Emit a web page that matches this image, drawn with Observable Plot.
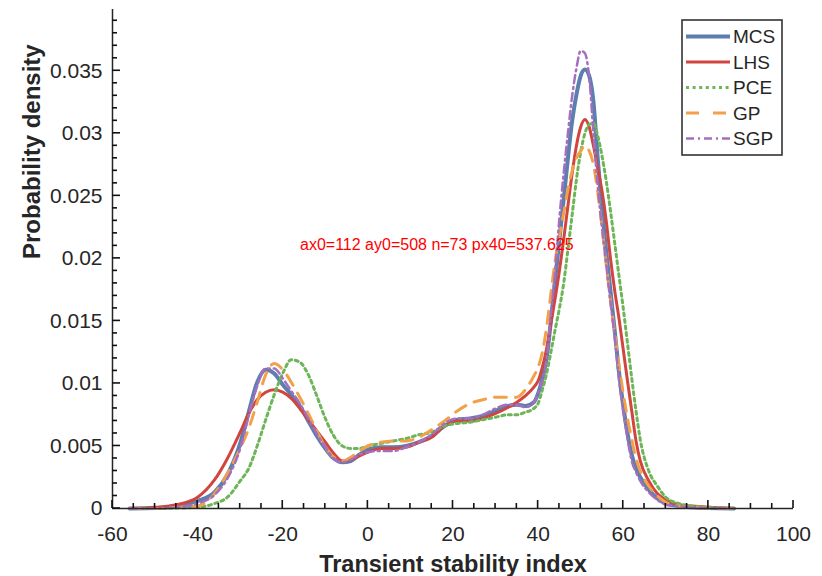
<!DOCTYPE html>
<html><head><meta charset="utf-8">
<script src="https://cdn.jsdelivr.net/npm/d3@7"></script>
<script src="https://cdn.jsdelivr.net/npm/@observablehq/plot@0.6"></script>
<style>
body{margin:0;background:#fff}
#chart{width:822px;height:576px}
</style>
</head><body><div id="chart"></div>
<script>
const xs = [-56,-50,-45,-40,-36,-33,-30,-28,-26,-24,
  -22,-20,-18,-16,-14,-12,-10,-8,-6,-4,
  -2,0,3,6,9,12,15,18,21,24,
  27,30,33,35,37,39,40,41,42,43,
  44,45,46,47,48,49,50,51,52,53,
  54,55,56,57,58,59,60,61,62,63,
  64,66,68,70,73,76,80,86];

const mcs = [0,0.00003,0.0002,0.0006,0.0013,0.0027,0.0052,0.0077,0.0101,0.0111,
  0.0108,0.0099,0.0091,0.0082,0.0070,0.0058,0.0048,0.0040,0.0037,0.0038,
  0.0043,0.0047,0.0049,0.0049,0.0050,0.0053,0.0058,0.0066,0.0071,0.0072,
  0.0074,0.0078,0.0082,0.0083,0.0082,0.0085,0.0092,0.0104,0.0120,0.0150,
  0.0183,0.0215,0.0247,0.0280,0.0310,0.0331,0.0346,0.0351,0.0346,0.0325,
  0.0280,0.0240,0.0205,0.0174,0.0142,0.0109,0.0082,0.0060,0.0043,0.0032,
  0.0025,0.0015,0.0008,0.0004,0.0002,0.0001,0.00003,0];

const lhs = [0,0.0001,0.0003,0.0009,0.0023,0.0040,0.0061,0.0076,0.0087,0.0093,
  0.0095,0.0093,0.0088,0.0080,0.0071,0.0062,0.0053,0.0044,0.0038,0.0039,
  0.0042,0.0045,0.0048,0.0048,0.0049,0.0053,0.0057,0.0066,0.0070,0.0070,
  0.0072,0.0076,0.0081,0.0085,0.0090,0.0097,0.0102,0.0113,0.0128,0.0148,
  0.0168,0.0190,0.0215,0.0242,0.0268,0.0290,0.0305,0.0311,0.0305,0.0290,
  0.0272,0.0254,0.0230,0.0200,0.0174,0.0152,0.0127,0.0102,0.0078,0.0054,
  0.0038,0.0022,0.0012,0.0007,0.0003,0.0002,0.0001,0];

const pce = [0,0,0.00003,0.0001,0.0004,0.0009,0.0022,0.0032,0.0050,0.0071,
  0.0091,0.0108,0.0119,0.0117,0.0107,0.0090,0.0072,0.0058,0.0050,0.0048,
  0.0048,0.0050,0.0052,0.0054,0.0056,0.0059,0.0061,0.0066,0.0068,0.0069,
  0.0071,0.0073,0.0075,0.0075,0.0077,0.0080,0.0084,0.0095,0.0108,0.0125,
  0.0143,0.0160,0.0180,0.0207,0.0235,0.0263,0.0285,0.0300,0.0307,0.0308,
  0.0298,0.0282,0.0262,0.0238,0.0212,0.0186,0.0160,0.0132,0.0104,0.0078,
  0.0055,0.0030,0.0018,0.0009,0.0004,0.0002,0.0001,0];

const gp = [0,0,0.0001,0.0002,0.0012,0.0028,0.0048,0.0064,0.0085,0.0107,
  0.0116,0.0111,0.0101,0.0089,0.0076,0.0062,0.0049,0.0041,0.0038,0.0041,
  0.0046,0.0050,0.0053,0.0054,0.0054,0.0057,0.0063,0.0070,0.0078,0.0084,
  0.0087,0.0089,0.0089,0.0089,0.0095,0.0106,0.0113,0.0125,0.0145,0.0172,
  0.0198,0.0218,0.0236,0.0255,0.0270,0.0280,0.0286,0.0290,0.0286,0.0275,
  0.0253,0.0225,0.0195,0.0166,0.0140,0.0115,0.0092,0.0072,0.0055,0.0040,
  0.0030,0.0018,0.0010,0.0005,0.0002,0.0001,0.00003,0];

const sgp = [0,0,0.0001,0.0004,0.0011,0.0024,0.0048,0.0074,0.0098,0.0112,
  0.0112,0.0104,0.0094,0.0084,0.0072,0.0060,0.0049,0.0040,0.0037,0.0039,
  0.0043,0.0045,0.0046,0.0046,0.0049,0.0053,0.0059,0.0068,0.0072,0.0072,
  0.0075,0.0080,0.0083,0.0083,0.0081,0.0085,0.0092,0.0102,0.0120,0.0155,
  0.0190,0.0232,0.0268,0.0300,0.0330,0.0352,0.0366,0.0364,0.0345,0.0300,
  0.0258,0.0225,0.0195,0.0165,0.0137,0.0103,0.0078,0.0056,0.0038,0.0029,
  0.0022,0.0013,0.0007,0.0003,0.0002,0.0001,0.00003,0];

const seriesNames = ["MCS","LHS","PCE","GP","SGP"];
const seriesValues = [mcs, lhs, pce, gp, sgp];

const xTicks = [-60,-40,-20,0,20,40,60,80,100];
const xTickLabels = ["-60","-40","-20","0","20","40","60","80","100"];
const yTicks = [0,0.005,0.01,0.015,0.02,0.025,0.03,0.035];
const yTickLabels = ["0","0.005","0.01","0.015","0.02","0.025","0.03","0.035"];
const xLabel = "Transient stability index";
const yLabel = "Probability density";

const colors = ["#5b7fae","#d0453f","#6db558","#f2a14a","#a56fbf"];
const widths = [4, 3, 3, 3, 2.5];
const dashes = [null, null, "3,3.6", "12,9", "8,4,2,4"];
const ink = "#262626";
const font = "'Liberation Sans', Arial, Helvetica, sans-serif";

const rows = seriesNames.flatMap((name, i) =>
  xs.map((x, j) => ({series: name, x, y: seriesValues[i][j]})));

const xMinor = d3.range(-60, 101, 5);
const yMinor = d3.range(0, 40).map(i => i / 1000);
const xMajorSet = new Set(xTicks);

const lineMarks = seriesNames.map((name, i) =>
  Plot.line(rows.filter(d => d.series === name), {
    x: "x", y: "y", stroke: colors[i], strokeWidth: widths[i],
    strokeDasharray: dashes[i] ?? undefined, curve: "monotone-x",
    strokeLinejoin: "round"
  }));

const chart = Plot.plot({
  width: 822, height: 576,
  marginLeft: 112, marginRight: 29, marginTop: 9, marginBottom: 68,
  style: {fontFamily: font, color: ink, background: "#fff", overflow: "visible"},
  x: {domain: [-60, 100]},
  y: {domain: [0, 0.0399]},
  marks: [
    Plot.axisX({ticks: xTicks, tickSize: 0, tickPadding: 18, fontSize: 21, label: null,
      tickFormat: d => xTickLabels[xTicks.indexOf(d)]}),
    Plot.axisY({ticks: yTicks, tickSize: 0, tickPadding: 10, fontSize: 21, label: null,
      tickFormat: d => yTickLabels[yTicks.indexOf(d)]}),
    ...lineMarks,
    Plot.ruleY([0], {stroke: ink, strokeWidth: 1.5}),
    Plot.ruleX([-60], {stroke: ink, strokeWidth: 1.5}),
    Plot.text([xLabel], {frameAnchor: "bottom", dy: 56, text: d => d, fontSize: 23.5, fontWeight: "bold", lineAnchor: "middle", fill: ink}),
    Plot.text([yLabel], {frameAnchor: "left", dx: -80, rotate: -90, text: d => d, fontSize: 24, fontWeight: "bold", lineAnchor: "middle", fill: ink})
  ]
});

const svg = d3.select(chart);
const sx = chart.scale("x"), sy = chart.scale("y");
const ax0 = sx.apply(-60), ay0 = sy.apply(0);
const tg = svg.append("g");
xMinor.forEach(v => {
  const px = sx.apply(v), len = xMajorSet.has(v) ? 8 : 5;
  tg.append("line").attr("x1", px).attr("x2", px).attr("y1", ay0).attr("y2", ay0 - len)
    .style("stroke", "#111").style("stroke-width", "1.6px");
});
yMinor.forEach((v, i) => {
  const py = sy.apply(v), len = (i % 5 === 0) ? 8 : 5;
  tg.append("line").attr("x1", ax0).attr("x2", ax0 + len).attr("y1", py).attr("y2", py)
    .style("stroke", "#111").style("stroke-width", "1.6px");
});

const lg = svg.append("g").attr("font-family", font).attr("font-size", 19)
  .attr("fill", ink).attr("text-anchor", "start");
const box = {x: 682, y: 20, w: 100, h: 135, row0: 36.5, step: 25.5};
lg.append("rect").attr("x", box.x).attr("y", box.y).attr("width", box.w).attr("height", box.h)
  .attr("fill", "#fff").attr("stroke", "#333").attr("stroke-width", 1.6);
seriesNames.forEach((name, i) => {
  const yy = box.row0 + i * box.step;
  lg.append("line").attr("x1", box.x + 4).attr("x2", box.x + 48).attr("y1", yy).attr("y2", yy)
    .attr("stroke", colors[i]).attr("stroke-width", widths[i])
    .attr("stroke-dasharray", name === "GP" ? "13,14" : dashes[i]);
  lg.append("text").attr("x", box.x + 51).attr("y", yy).attr("dy", "0.36em")
    .attr("text-anchor", "start").text(name);
});
svg.append("text").attr("x", 300).attr("y", 250).attr("font-size", 16).attr("fill", "red")
  .attr("text-anchor", "start")
  .text(`ax0=${ax0} ay0=${ay0} n=${tg.selectAll("line").size()} px40=${sx.apply(40)}`);

document.getElementById("chart").appendChild(chart);
</script>
</body></html>
